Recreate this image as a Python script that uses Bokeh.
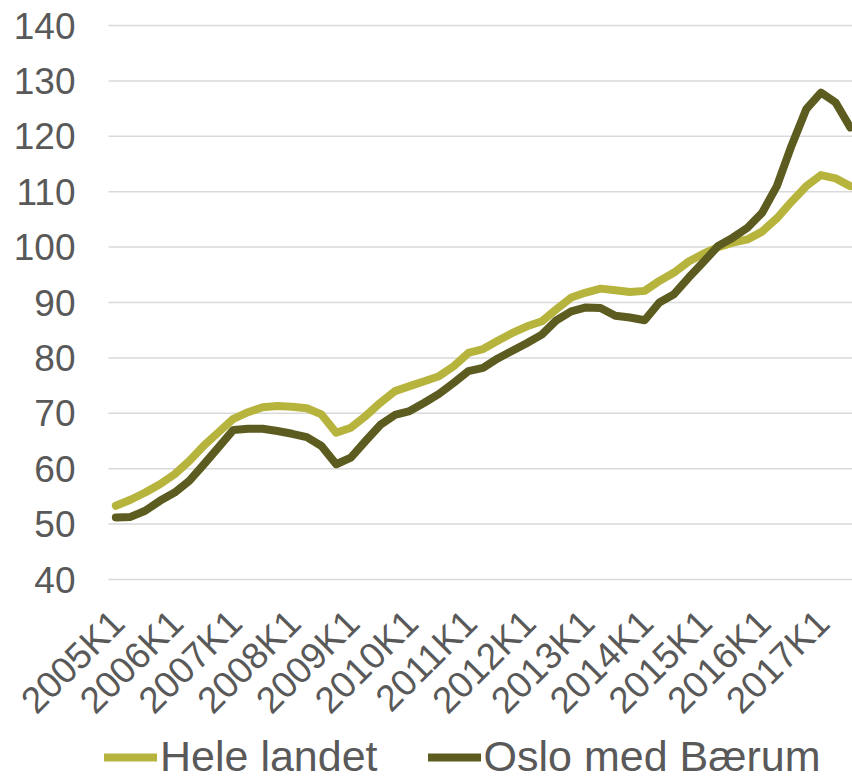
from bokeh.plotting import figure
from bokeh.models import Range1d, Legend, LegendItem, LabelSet, ColumnDataSource
from bokeh.core.properties import value
from bokeh.embed import file_html
from bokeh.resources import INLINE
import math

# Quarterly index values, 2005K1 .. 2017K3
quarters = [f"{y}K{q}" for y in range(2005, 2018) for q in range(1, 5)][:51]
tick_labels = ["2005K1", "2006K1", "2007K1", "2008K1", "2009K1", "2010K1", "2011K1",
               "2012K1", "2013K1", "2014K1", "2015K1", "2016K1", "2017K1"]

hele = [53.3, 54.4, 55.7, 57.2, 59.0, 61.4, 64.2, 66.6, 69.0, 70.2,
        71.1, 71.3, 71.2, 70.9, 69.8, 66.5, 67.4, 69.5, 71.9, 74.0,
        74.9, 75.8, 76.7, 78.5, 80.9, 81.6, 83.1, 84.5, 85.7, 86.6,
        88.8, 90.9, 91.8, 92.5, 92.2, 91.9, 92.1, 93.9, 95.4, 97.4,
        98.8, 100.0, 100.8, 101.4, 102.8, 105.2, 108.2, 111.0, 113.0, 112.4, 111.0]

oslo = [51.2, 51.3, 52.4, 54.2, 55.7, 57.8, 60.8, 63.9, 67.0, 67.2,
        67.2, 66.8, 66.3, 65.7, 64.1, 60.8, 62.0, 65.0, 67.9, 69.7,
        70.4, 71.9, 73.5, 75.5, 77.6, 78.2, 79.9, 81.3, 82.7, 84.2,
        86.8, 88.4, 89.1, 89.0, 87.6, 87.3, 86.8, 90.0, 91.5, 94.5,
        97.3, 100.2, 101.7, 103.5, 106.2, 111.0, 118.3, 124.9, 127.9, 126.1, 121.6]

y_ticks = [40, 50, 60, 70, 80, 90, 100, 110, 120, 130, 140]
y_min, y_max = 40, 140

series_names = ["Hele landet", "Oslo med Bærum"]
colors = ["#B7B43E", "#5D5C20"]

FONT = "Liberation Sans"
TEXT = "#595959"

x = list(range(len(quarters)))
tick_pos = [quarters.index(t) for t in tick_labels]

# layout in pixels: plot area 108..852 wide, value 140 at 25 px, 40 at 579 px
W, H = 852, 781
plot_left, plot_top, plot_bottom = 108, 25, 579
cat_lo, cat_hi = -0.5, 50.15
px_per_cat = (W - plot_left) / (cat_hi - cat_lo)
px_per_unit = (plot_bottom - plot_top) / (y_max - y_min)
x_start = cat_lo - plot_left / px_per_cat
y_end = y_max + plot_top / px_per_unit
y_start = y_min - (H - plot_bottom) / px_per_unit

p = figure(frame_width=W, frame_height=H, output_backend="svg", toolbar_location=None,
           x_range=Range1d(x_start, cat_hi), y_range=Range1d(y_start, y_end),
           x_axis_location=None, y_axis_location=None,
           min_border=0)
p.outline_line_color = None
p.background_fill_color = "white"
p.border_fill_color = "white"
p.xgrid.visible = False
p.ygrid.visible = False

# horizontal gridlines of the value axis
p.segment(x0=[cat_lo] * len(y_ticks), x1=[cat_hi] * len(y_ticks), y0=y_ticks, y1=y_ticks,
          line_color="#D9D9D9", line_width=1.5)

r1 = p.line(x, hele, line_color=colors[0], line_width=8, line_join="round", line_cap="round")
r2 = p.line(x, oslo, line_color=colors[1], line_width=8, line_join="round", line_cap="round")

# value-axis labels
ysrc = ColumnDataSource(data=dict(x=[cat_lo] * len(y_ticks), y=y_ticks,
                                  text=[str(v) for v in y_ticks]))
p.add_layout(LabelSet(x="x", y="y", text="text", source=ysrc,
                      text_align="right", text_baseline="middle", x_offset=-33,
                      text_font=value(FONT), text_font_size=value("37px"),
                      text_color=value(TEXT)))

# category labels, rotated 45 degrees, hanging under the 40 line
xsrc = ColumnDataSource(data=dict(x=tick_pos, y=[y_min] * len(tick_pos), text=tick_labels))
p.add_layout(LabelSet(x="x", y="y", text="text", source=xsrc,
                      angle=math.pi / 4, text_align="right", text_baseline="middle",
                      x_offset=2, y_offset=-37,
                      text_font=value(FONT), text_font_size=value("37px"),
                      text_color=value(TEXT)))

legend = Legend(items=[LegendItem(label=series_names[0], renderers=[r1]),
                       LegendItem(label=series_names[1], renderers=[r2])],
                orientation="horizontal", location=(104, 0),
                label_text_font=FONT, label_text_font_size="43px",
                label_text_color=TEXT, glyph_width=53, glyph_height=20,
                label_height=20, label_standoff=3, spacing=50, padding=0, margin=0,
                border_line_color=None, background_fill_alpha=0)
p.add_layout(legend, "center")

open("out.html", "w").write(file_html(p, INLINE))
